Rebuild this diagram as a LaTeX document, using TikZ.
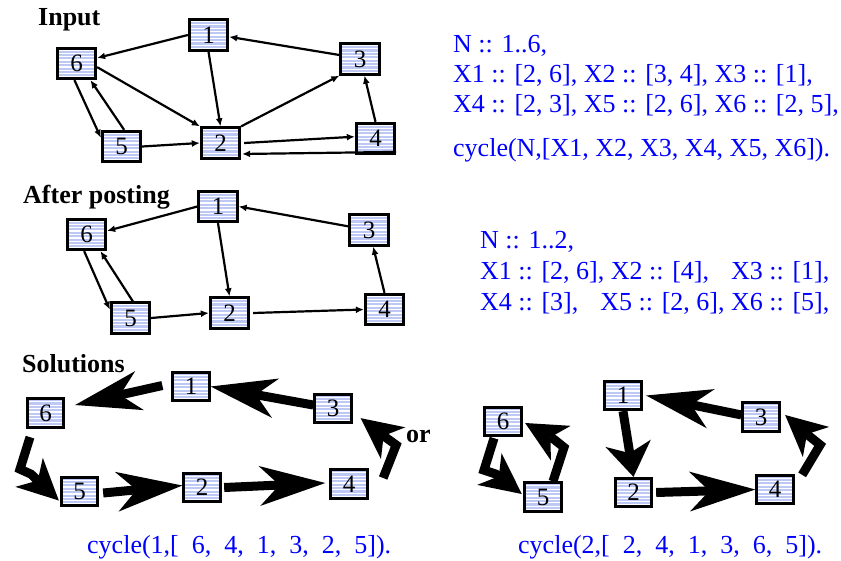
\documentclass[tikz,border=0pt]{standalone}
\usepackage{fontspec}
\setmainfont{Liberation Serif}
\usetikzlibrary{arrows.meta,calc}
\definecolor{boxfill}{RGB}{190,200,245}
\definecolor{txtblue}{RGB}{0,0,255}
\tikzset{
  nbox/.style={draw=black, line width=2.8pt, fill=boxfill, minimum width=38.5pt, minimum height=30.5pt,
    inner sep=0pt, font=\fontsize{25}{25}\selectfont,
    path picture={\foreach \k in {0,...,10}{\draw[white,line width=1.3pt]
      ([yshift={\k*3.4+1.7}]path picture bounding box.south west) --
      ([yshift={\k*3.4+1.7}]path picture bounding box.south east);}}},
  sbox/.style={nbox, minimum width=36.5pt, minimum height=28.5pt},
  thin/.style={line width=2.2pt, -{Latex[length=8pt,width=7pt]}},
  big/.style={line width=9pt, -{Stealth[length=66pt,width=40pt,inset=20pt,line width=0pt]}},
  bent/.style={line width=9pt, line join=miter, -{Stealth[length=41pt,width=40pt,inset=12pt,line width=0pt]}},
  stub/.style={line width=9pt, -{Stealth[length=34pt,width=46pt,inset=10pt,line width=0pt]}},
  lbl/.style={anchor=base west, inner sep=0pt, font=\fontsize{26}{30}\selectfont\bfseries},
  code/.style={anchor=base west, inner sep=0pt, text=txtblue, font=\fontsize{26}{30}\selectfont},
}
\begin{document}
\begin{tikzpicture}[x=1pt,y=-1pt]
\useasboundingbox (0,0) rectangle (841,560);
\fill[white] (0,0) rectangle (841,560);

% ---------- Input ----------
\node[lbl] (tin) at (38,25) {Input};
\node[nbox] (a1) at (208.5,35) {1};
\node[nbox] (a6) at (76.5,63.5) {6};
\node[nbox] (a3) at (360,59) {3};
\node[nbox] (a5) at (121.5,146.5) {5};
\node[nbox] (a2) at (220.5,143) {2};
\node[nbox] (a4) at (375.5,138.5) {4};
\draw[thin] (a1.west) -- (a6.15);
\draw[thin] (a3.169) -- (a1.-5);
\draw[thin] (a1.south) -- (a2.north);
\draw[thin] (a6.-10) -- (a2.north west);
\draw[thin] (a6.-97) -- (a5.157);
\draw[thin] (a5.81) -- (a6.-50);
\draw[thin] (a5.east) -- (a2.west);
\draw[thin] (a2.north east) -- (a3.south west);
\draw[thin] ($(a2.east)+(3,0)$) -- (a4.175);
\draw[thin] (a4.-33) -- ($(a2.-28)+(1,0)$);
\draw[thin] (a4.north) -- (a3.-75);

\node[code] (c1) at (453,52) {N :: 1..6,};
\node[code] (c2) at (453,82) {X1 :: [2, 6], X2 :: [3, 4], X3 :: [1],};
\node[code] (c3) at (453,112) {X4 :: [2, 3], X5 :: [2, 6], X6 :: [2, 5],};
\node[code] (c4) at (453,156) {cycle(N,[X1, X2, X3, X4, X5, X6]).};

% ---------- After posting ----------
\node[lbl] (tap) at (23,203) {After posting};
\node[nbox] (b1) at (218,206.5) {1};
\node[nbox] (b6) at (86.5,234.5) {6};
\node[nbox] (b3) at (369,230) {3};
\node[nbox] (b5) at (130.5,318) {5};
\node[nbox] (b2) at (229.5,313) {2};
\node[nbox] (b4) at (384.5,309.5) {4};
\draw[thin] (b1.west) -- (b6.10);
\draw[thin] (b3.170) -- (b1.east);
\draw[thin] (b1.south) -- (b2.north);
\draw[thin] (b6.-98) -- (b5.158);
\draw[thin] (b5.82) -- (b6.-50);
\draw[thin] (b5.east) -- (b2.west);
\draw[thin] ($(b2.east)+(3,0)$) -- (b4.west);
\draw[thin] (b4.north) -- (b3.-76);

\node[code] (d1) at (480,248) {N :: 1..2,};
\node[code] (d2) at (480,279) {X1 :: [2, 6], X2 :: [4],\hspace{22pt}X3 :: [1],};
\node[code] (d3) at (480,310) {X4 :: [3],\hspace{22pt}X5 :: [2, 6], X6 :: [5],};

% ---------- Solutions (left) ----------
\node[lbl] (tso) at (22,372) {Solutions};
\node[sbox] (s1) at (191,386.5) {1};
\node[sbox] (s6) at (45.5,413) {6};
\node[sbox] (s3) at (333,408.5) {3};
\node[sbox] (s5) at (79.5,491.5) {5};
\node[sbox] (s2) at (202,487.5) {2};
\node[sbox] (s4) at (349,484) {4};
\draw[big] (s3.170) -- (s1.east);
\draw[big] ($(s1.west)+(-9,-1)$) -- ($(s6.east)+(10,-8)$);
\draw[bent] ($(s6.south)+(-15.5,8.5)$) -- ++(-10,32) -- ++(11,5) -- ($(s5.west)+(-1,9)$);
\draw[big] ($(s5.east)+(4,1.5)$) -- ($(s2.west)+(0,-2)$);
\draw[big] ($(s2.east)+(2.5,0)$) -- ($(s4.west)+(-4,-1)$);
\draw[bent] ($(s4.east)+(14.5,-6)$) -- ++(13,-33) -- ++(-11,-8) -- ($(s3.south east)+(8,-6)$);
\node[lbl] (tor) at (406,442) {or};
\node[code] (e1) at (87,553) {cycle(1,[~~6,~~4,~~1,~~3,~~2,~~5]).};

% ---------- Solutions (right) ----------
\node[sbox] (r6) at (503,421.5) {6};
\node[sbox] (r5) at (543,497) {5};
\node[sbox] (r1) at (623,395.5) {1};
\node[sbox] (r2) at (633.5,492.5) {2};
\node[sbox] (r3) at (761,417) {3};
\node[sbox] (r4) at (775,489.5) {4};
\draw[bent] ($(r6.south)+(-9,1)$) -- ++(-10,32) -- ++(12,4) -- ($(r5.west)+(-1.5,-3)$);
\draw[bent] ($(r5.north)+(10,0)$) -- ++(11,-34) -- ++(-10,-8) -- ($(r6.east)+(2.5,1.5)$);
\draw[stub] (r1.south) -- (r2.north);
\draw[big] ($(r2.east)+(3,0)$) -- (r4.west);
\draw[big] (r3.174) -- ($(r1.east)+(3.5,0)$);
\draw[bent] ($(r4.north east)+(7.5,1)$) -- ++(18,-30) -- ++(-10,-8) -- ($(r3.east)+(4.5,-2)$);
\node[code] (e2) at (518,553) {cycle(2,[~~2,~~4,~~1,~~3,~~6,~~5]).};
\end{tikzpicture}
\end{document}
